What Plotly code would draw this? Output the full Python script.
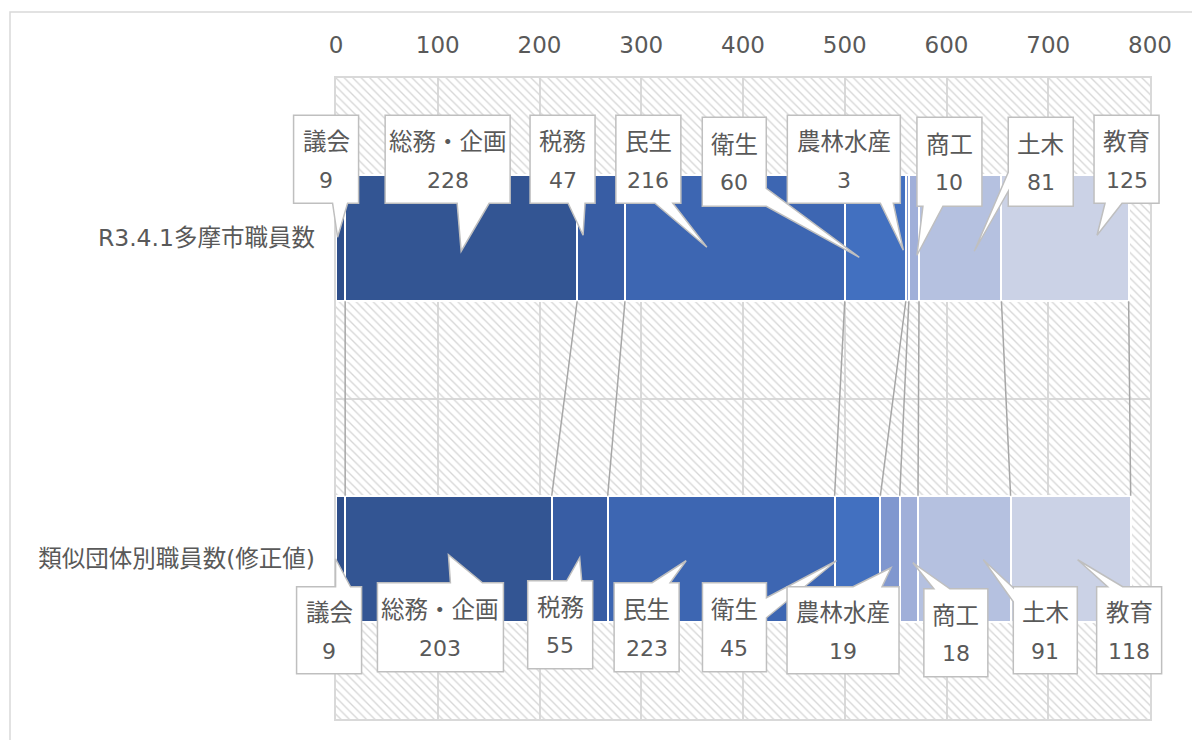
import plotly.graph_objects as go

# ---------------- data ----------------
categories = ["R3.4.1多摩市職員数", "類似団体別職員数(修正値)"]
departments = ["議会", "総務・企画", "税務", "民生", "衛生", "農林水産", "商工", "土木", "教育"]
tama_staff = [9, 228, 47, 216, 60, 3, 10, 81, 125]
similar_staff = [9, 203, 55, 223, 45, 19, 18, 91, 118]
x_tick_values = [0, 100, 200, 300, 400, 500, 600, 700, 800]

# ---------------- styles ----------------
colors = ["#2E4E8A", "#335593", "#385DA4", "#3D66B2", "#4270C0",
          "#8097CF", "#A0AFD9", "#B5C1E0", "#CBD2E6"]
TEXT = "#595959"
GRID = "#D9D9D9"
FONT = "DejaVu Sans, Noto Sans CJK JP, sans-serif"
BAR_W = 0.393
X_MAX = x_tick_values[-1]

# callout geometry (pixels, relative to each segment centre, y downward):
# box x0, x1, y0, y1, wedge edge, wedge base b1, b2, tip x, tip y
callouts = [
    [(-47, 18, -123, -35, "bottom", -8, 7, -3, -1),
     (-76, 49, -123, -35, "bottom", -4, 28, 0, 13),
     (-71, -6, -123, -35, "bottom", -33, -16, -18, -3),
     (-119, -54, -123, -35, "bottom", -80, -62, -28, 9),
     (-173, -109, -121, -32, "right", -50, -32, -16, 19),
     (-120, -7, -123, -35, "bottom", -27, -14, -4, 12),
     (3, 68, -121, -32, "bottom", 9, 29, 3, 17),
     (48, 113, -121, -32, "left", -66, -47, 14, 13),
     (29, 94, -123, -35, "bottom", 40, 57, 32, -3)],
    [(-44, 21, 28, 115, "top", -5, 10, -5, 0),
     (-71, 55, 24, 113, "top", 2, 34, 0, -4),
     (-52, 13, 22, 110, "top", -13, 2, 0, -1),
     (-107, -42, 24, 113, "top", -69, -51, -35, 2),
     (-155, -91, 24, 113, "right", 39, 59, -21, 2),
     (-103, 9, 28, 115, "top", -37, -8, 1, 9),
     (15, 79, 30, 118, "top", 25, 41, 4, 4),
     (49, 113, 28, 115, "left", 29, 43, 19, 1),
     (26, 91, 28, 115, "top", 37, 52, 7, 1)],
]

series = [tama_staff, similar_staff]

fig = go.Figure()

# hatched plot-area background
fig.add_trace(go.Bar(
    x=[X_MAX], y=[0.5], width=[1], orientation="h",
    xaxis="x", yaxis="y", hoverinfo="skip", showlegend=False,
    marker=dict(color="#D6D6D6", line=dict(width=0),
                pattern=dict(shape="\\", size=6, solidity=0.22, fillmode="replace")),
))

# stacked bars
for i, dep in enumerate(departments):
    fig.add_trace(go.Bar(
        y=categories, x=[tama_staff[i], similar_staff[i]], orientation="h",
        name=dep, xaxis="x2", yaxis="y2", width=BAR_W, showlegend=False,
        marker=dict(color=colors[i], line=dict(color="white", width=2)),
    ))

shapes = []
annotations = []

# series lines connecting the stacked boundaries
cum_top, cum_bot = [], []
s = 0
for v in tama_staff:
    s += v
    cum_top.append(s)
s = 0
for v in similar_staff:
    s += v
    cum_bot.append(s)
for a, b in zip(cum_top, cum_bot):
    shapes.append(dict(type="line", xref="x2", yref="y2",
                       x0=a, y0=BAR_W / 2, x1=b, y1=1 - BAR_W / 2,
                       line=dict(color="#A6A6A6", width=1.5), layer="above"))


def callout_path(c):
    x0, x1, y0, y1, edge, b1, b2, tx, ty = c
    pts = [(x0, y0)]
    if edge == "top":
        pts += [(b1, y0), (tx, ty), (b2, y0)]
    pts.append((x1, y0))
    if edge == "right":
        pts += [(x1, b1), (tx, ty), (x1, b2)]
    pts.append((x1, y1))
    if edge == "bottom":
        pts += [(b2, y1), (tx, ty), (b1, y1)]
    pts.append((x0, y1))
    if edge == "left":
        pts += [(x0, b2), (tx, ty), (x0, b1)]
    return "M " + " L ".join(f"{x},{-y}" for x, y in pts) + " Z"


n_cat = len(categories)
for row, vals in enumerate(series):
    start = 0
    for i, v in enumerate(vals):
        center = start + v / 2
        start += v
        c = callouts[row][i]
        # anchored on the segment centre (x range 0..X_MAX spans the domain)
        shapes.append(dict(type="path", xref="x2 domain", yref="y2 domain",
                           xsizemode="pixel", ysizemode="pixel",
                           xanchor=center / X_MAX,
                           yanchor=1 - (row + 0.5) / n_cat,
                           path=callout_path(c), fillcolor="white",
                           line=dict(color="#BFBFBF", width=1.5), layer="above"))
        bx = (c[0] + c[1]) / 2
        by = (c[2] + c[3]) / 2
        for txt, off, fs in ((departments[i], -17, 23.5), (str(v), 21, 22)):
            annotations.append(dict(xref="x2", yref="y2", x=center, y=row,
                                    xshift=bx, yshift=-(by + off), text=txt,
                                    showarrow=False, xanchor="center", yanchor="middle",
                                    font=dict(size=fs, color=TEXT, family=FONT)))

# outer chart frame
shapes.append(dict(type="rect", xref="paper", yref="paper",
                   x0=(10 - 336) / 814, x1=1.06, y0=-0.05, y1=(719 - 12) / 641,
                   line=dict(color=GRID, width=1.5), fillcolor="rgba(0,0,0,0)", layer="below"))

fig.update_layout(
    width=1192, height=740, autosize=False,
    margin=dict(l=336, r=42, t=78, b=21, pad=0),
    paper_bgcolor="white", plot_bgcolor="white",
    font=dict(family=FONT, color=TEXT, size=22),
    barmode="stack", bargap=0,
    showlegend=False,
    xaxis=dict(range=[0, X_MAX], side="top", tickvals=x_tick_values,
               showgrid=True, gridcolor=GRID, gridwidth=1.5, zeroline=False,
               showline=True, linecolor=GRID, linewidth=1.5, mirror=True,
               ticks="", ticklabelstandoff=14,
               tickfont=dict(size=23, color=TEXT, family=FONT), fixedrange=True),
    yaxis=dict(range=[0, 1], tickvals=[0.5], showticklabels=False,
               showgrid=True, gridcolor=GRID, gridwidth=1.5, zeroline=False,
               showline=True, linecolor=GRID, linewidth=1.5, mirror=True,
               ticks="", fixedrange=True),
    xaxis2=dict(range=[0, X_MAX], overlaying="x", side="top", visible=False,
                fixedrange=True),
    yaxis2=dict(type="category", categoryorder="array", categoryarray=categories,
                range=[1.5, -0.5], overlaying="y", side="left",
                showgrid=False, zeroline=False, showline=False, ticks="",
                ticklabelstandoff=20,
                tickfont=dict(size=23.5, color=TEXT, family=FONT), fixedrange=True),
    shapes=shapes,
    annotations=annotations,
)

fig.write_html("out.html")
